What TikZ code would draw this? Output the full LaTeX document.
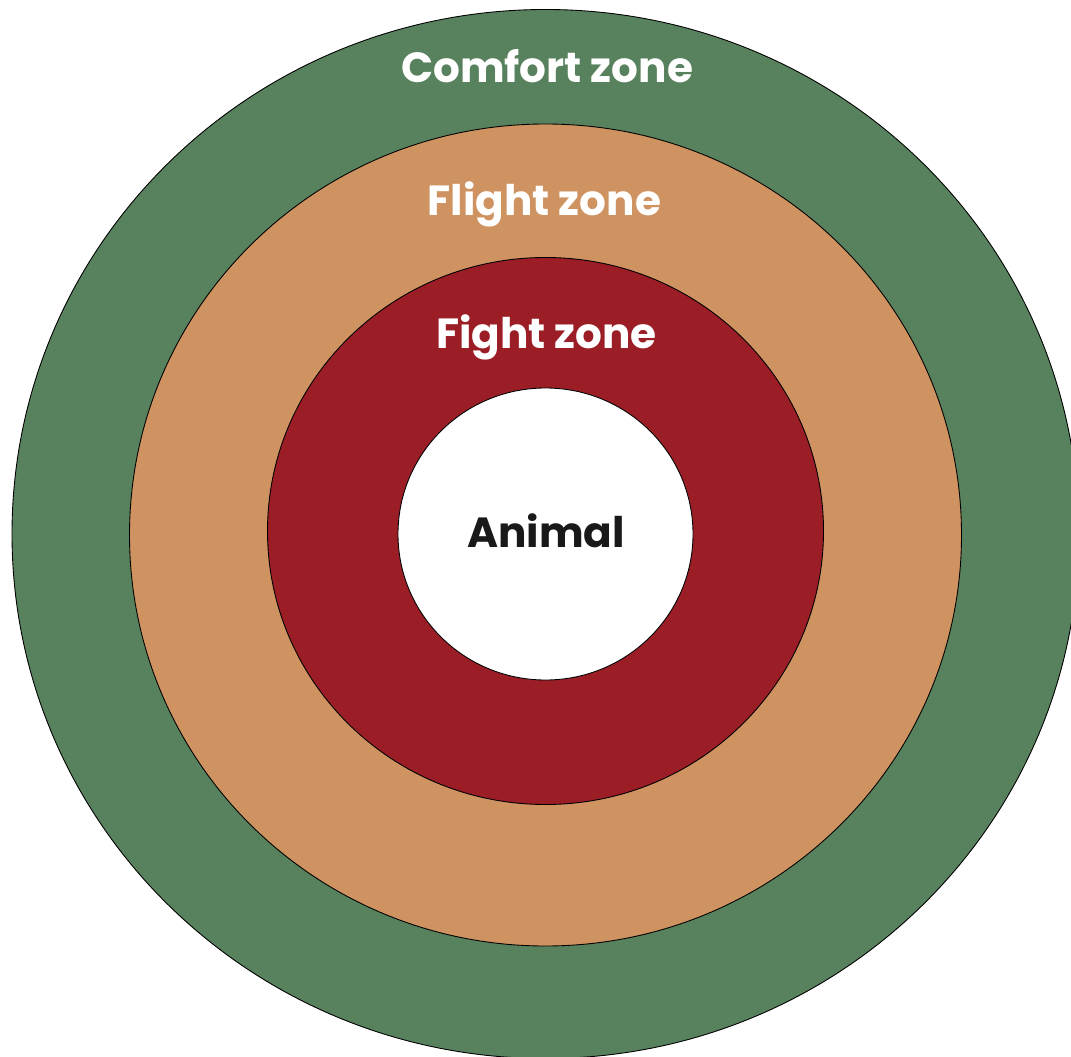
\documentclass[tikz,border=0pt]{standalone}
\usepackage{fontspec}
\setmainfont{Poppins}
\definecolor{comfortgreen}{RGB}{88,129,93}
\definecolor{flightorange}{RGB}{206,147,96}
\definecolor{fightred}{RGB}{155,30,38}
\begin{document}
\begin{tikzpicture}[x=0.02cm, y=-0.02cm]

    % Style for zone rings and labels
    \tikzset{zone/.style={draw=black, line width=0.5pt},
             lbl/.style={inner sep=1pt, anchor=base, font=\fontsize{24}{28}\selectfont\bfseries}}

    % Centre of the rings (pixel coordinates)
    \def\cx{545.5}
    \def\cy{534}

    \useasboundingbox (0,0) rectangle (1071,1057);
    \clip (0,0) rectangle (1071,1057);

    % --- Rings, outer to inner ---
    \draw[zone, fill=comfortgreen] (\cx,\cy) ellipse [x radius=533.5, y radius=524.5];
    \draw[zone, fill=flightorange] (\cx,535) ellipse [x radius=416, y radius=411];
    \draw[zone, fill=fightred] (\cx,531) ellipse [x radius=278, y radius=273.5];
    \draw[zone, fill=white] (\cx,\cy) ellipse [x radius=147.5, y radius=146];

    % --- Labels ---
    \node[lbl, text=white] (comfort) at (547,83) {Comfort zone};
    \node[lbl, text=white] (flight) at (544.5,216) {Flight zone};
    \node[lbl, text=white] (fight) at (546.5,348) {Fight zone};
    \node[lbl, text=black!90] (animal) at (546,547) {Animal};
\end{tikzpicture}
\end{document}
